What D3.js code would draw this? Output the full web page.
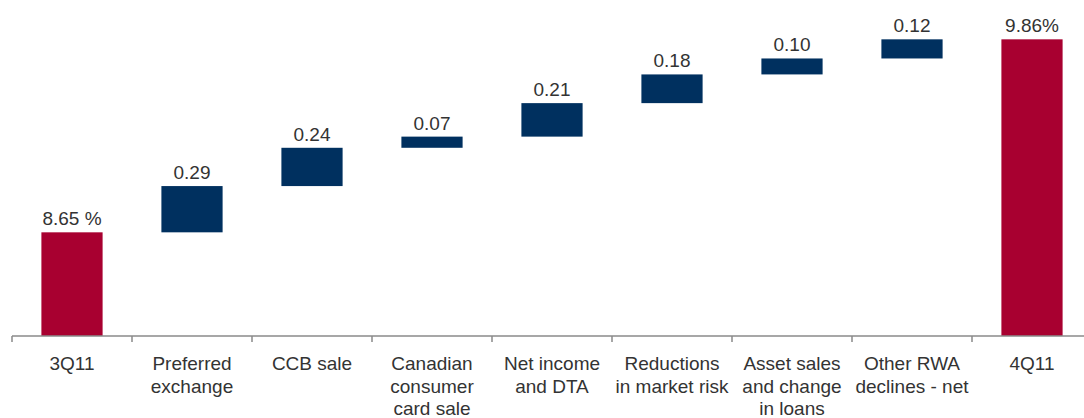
<!DOCTYPE html>
<html>
<head>
<meta charset="utf-8">
<script src="https://d3js.org/d3.v7.min.js"></script>
<style>
  html, body { margin: 0; padding: 0; background: #fff; }
  svg { display: block; font-family: "Liberation Sans", Arial, sans-serif; }
</style>
</head>
<body>
<script>
// Chart data
const categories = ['3Q11', 'Preferred exchange', 'CCB sale', 'Canadian consumer card sale',
    'Net income and DTA', 'Reductions in market risk', 'Asset sales and change in loans',
    'Other RWA declines - net', '4Q11'];
const labelLines = [
    ['3Q11'],
    ['Preferred', 'exchange'],
    ['CCB sale'],
    ['Canadian', 'consumer', 'card sale'],
    ['Net income', 'and DTA'],
    ['Reductions', 'in market risk'],
    ['Asset sales', 'and change', 'in loans'],
    ['Other RWA', 'declines - net'],
    ['4Q11']
];
const startValue = 8.65;
const deltas = [0.29, 0.24, 0.07, 0.21, 0.18, 0.10, 0.12];
const endValue = 9.86;
const valueLabels = ['8.65 %', '0.29', '0.24', '0.07', '0.21', '0.18', '0.10', '0.12', '9.86%'];

const width = 1084;
const height = 418;
const axisY = 336;

// Build waterfall rows
let running = startValue;
const rows = [{ name: categories[0], y0: 8, y1: startValue, total: true }];
deltas.forEach((d, i) => {
    rows.push({ name: categories[i + 1], y0: running, y1: running + d, total: false });
    running += d;
});
rows.push({ name: categories[8], y0: 8, y1: endValue, total: true });
rows.forEach((r, i) => { r.label = valueLabels[i]; r.lines = labelLines[i]; });

const svg = d3.select('body').append('svg')
    .attr('width', width)
    .attr('height', height);

const x = d3.scaleBand()
    .domain(categories)
    .range([12, 1092])
    .paddingInner(0.49)
    .paddingOuter(0.245);

const y = d3.scaleLinear()
    .domain([8, 10])
    .range([axisY, axisY - 2 * 159.5]);

// Bars
svg.selectAll('rect.bar')
    .data(rows)
    .enter()
    .append('rect')
    .attr('class', 'bar')
    .attr('x', d => x(d.name))
    .attr('width', x.bandwidth())
    .attr('y', d => y(d.y1))
    .attr('height', d => y(d.y0) - y(d.y1))
    .attr('fill', d => d.total ? '#A80030' : '#00305F');

// Value labels
svg.selectAll('text.value')
    .data(rows)
    .enter()
    .append('text')
    .attr('class', 'value')
    .attr('x', d => x(d.name) + x.bandwidth() / 2)
    .attr('y', d => y(d.y1) - 7)
    .attr('text-anchor', 'middle')
    .attr('fill', '#333')
    .style('font-size', '19px')
    .text(d => d.label);

// Axis line and ticks at band boundaries
const step = x.step();
svg.append('line')
    .attr('x1', 12).attr('x2', width)
    .attr('y1', axisY).attr('y2', axisY)
    .attr('stroke', '#8a8a8a')
    .attr('stroke-width', 1.5);

svg.selectAll('line.tick')
    .data(categories)
    .enter()
    .append('line')
    .attr('class', 'tick')
    .attr('x1', d => x(d) + x.bandwidth() / 2 - step / 2)
    .attr('x2', d => x(d) + x.bandwidth() / 2 - step / 2)
    .attr('y1', axisY)
    .attr('y2', axisY + 6)
    .attr('stroke', '#8a8a8a')
    .attr('stroke-width', 1.5);

// Category labels
const cat = svg.selectAll('text.cat')
    .data(rows)
    .enter()
    .append('text')
    .attr('class', 'cat')
    .attr('text-anchor', 'middle')
    .attr('fill', '#333')
    .style('font-size', '19px');

cat.selectAll('tspan')
    .data(d => d.lines.map(l => ({ l, cx: x(d.name) + x.bandwidth() / 2 })))
    .enter()
    .append('tspan')
    .attr('x', d => d.cx)
    .attr('y', (d, i) => 370 + i * 22.5)
    .text(d => d.l);
</script>
</body>
</html>
